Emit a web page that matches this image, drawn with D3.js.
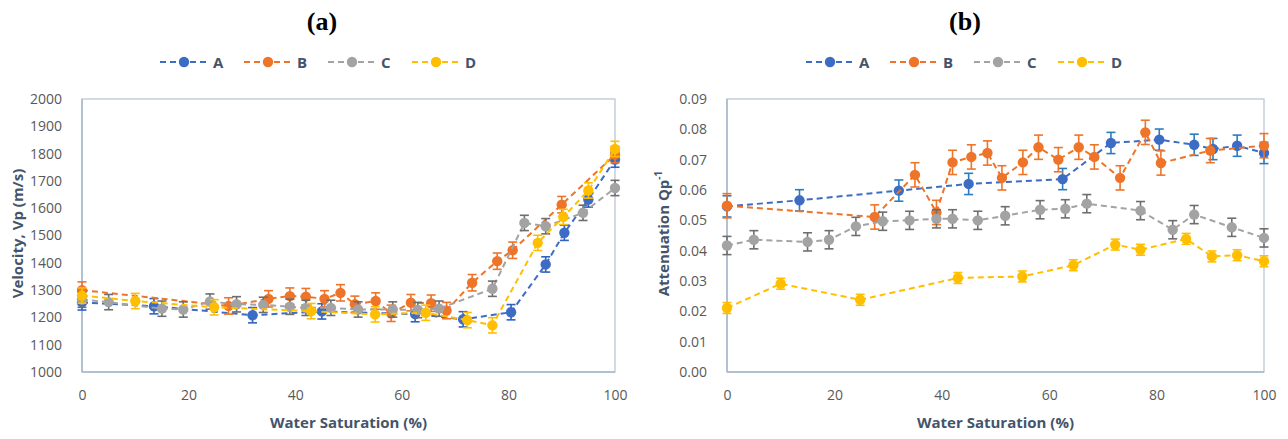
<!DOCTYPE html>
<html>
<head>
<meta charset="utf-8">
<script src="https://cdn.jsdelivr.net/npm/d3@7"></script>
<style>
  html, body { margin: 0; padding: 0; background: #fff; }
  svg { display: block; }
</style>
</head>
<body>
<svg id="chart" width="1288" height="439"></svg>
<script>
// Water saturation (%) for each sample
const swA = [0, 13.5, 32, 45, 62.5, 71.5, 80.5, 87, 90.5, 95, 100];
const swB = [0, 27.5, 35, 39, 42, 45.5, 48.5, 51.2, 55.1, 58, 61.7, 65.5, 68.4, 73.2, 77.9, 80.8, 90, 100];
const swC = [0, 5, 15, 19, 24, 29, 34, 39, 42, 46.7, 51.8, 58.3, 63, 67, 77, 83, 87, 94, 100];
const swD = [0, 10, 24.8, 43, 55, 64.5, 72.3, 77, 85.5, 90.3, 95, 100];

// P-wave velocity (m/s)
const vpA = [1255, 1241, 1208, 1222, 1212, 1193, 1219, 1394, 1510, 1632, 1778];
const vpB = [1300, 1242, 1268, 1278, 1276, 1268, 1290, 1248, 1260, 1215, 1254, 1252, 1225, 1327, 1406, 1446, 1613, 1796];
const vpC = [1265, 1256, 1232, 1229, 1258, 1248, 1246, 1239, 1235, 1235, 1229, 1229, 1227, 1232, 1305, 1546, 1534, 1583, 1674];
const vpD = [1280, 1260, 1237, 1223, 1211, 1217, 1190, 1171, 1473, 1568, 1665, 1817];

// P-wave attenuation Qp^-1
const qA = [0.0546, 0.0566, 0.0598, 0.0620, 0.0636, 0.0755, 0.0766, 0.0749, 0.0735, 0.0746, 0.0722];
const qB = [0.0548, 0.0511, 0.0650, 0.0526, 0.0691, 0.0709, 0.0722, 0.0640, 0.0691, 0.0741, 0.0700, 0.0741, 0.0709, 0.0640, 0.0790, 0.0689, 0.0730, 0.0746];
const qC = [0.0417, 0.0436, 0.0429, 0.0436, 0.0480, 0.0497, 0.0500, 0.0505, 0.0505, 0.0500, 0.0515, 0.0535, 0.0538, 0.0555, 0.0532, 0.0469, 0.0519, 0.0477, 0.0442];
const qD = [0.0211, 0.0291, 0.0238, 0.0310, 0.0315, 0.0352, 0.0420, 0.0403, 0.0439, 0.0381, 0.0385, 0.0365];

// Measurement uncertainty (± half-width of error bars)
const vpErr = [28, 30, 28, 28];
const qErr = [0.0035, 0.0040, 0.0030, 0.0018];

const seriesNames = ["A", "B", "C", "D"];
const seriesColors = ["#3D6CC5", "#EE7429", "#A3A3A3", "#FFBF00"];
const errColorsVp = ["#2F62C0", "#EE7429", "#6E6E6E", "#FFBF00"];
const errColorsQ = ["#2C7DBF", "#EE7429", "#6E6E6E", "#FFBF00"];

const xTicks = [0, 20, 40, 60, 80, 100];
const vpTicks = [1000, 1100, 1200, 1300, 1400, 1500, 1600, 1700, 1800, 1900, 2000];
const qTicks = [0.00, 0.01, 0.02, 0.03, 0.04, 0.05, 0.06, 0.07, 0.08, 0.09];

const svg = d3.select("#chart");
const uiFont = "'Open Sans', 'Liberation Sans', sans-serif";

function panel(opts) {
  const { left, right, top, bottom, ys, yDomain, yTicks, yFmt, err, errColors, title, titleX, legendX, yTitle } = opts;
  const x = d3.scaleLinear().domain([0, 100]).range([left, right]);
  const y = d3.scaleLinear().domain(yDomain).range([bottom, top]);
  const g = svg.append("g");

  // plot frame
  g.append("rect")
    .attr("x", left).attr("y", top)
    .attr("width", right - left).attr("height", bottom - top)
    .attr("fill", "none").attr("stroke", "#BCC7D8").attr("stroke-width", 1.3);

  // axes (labels only, no tick marks)
  const yAxis = g.append("g").attr("transform", `translate(${left - 17},0)`)
    .call(d3.axisLeft(y).tickValues(yTicks).tickFormat(yFmt).tickSize(0));
  yAxis.select(".domain").remove();
  yAxis.selectAll("text").attr("font-family", uiFont).attr("font-size", 14)
    .attr("fill", "#595959");

  const xAxis = g.append("g").attr("transform", `translate(0,${bottom + 15})`)
    .call(d3.axisBottom(x).tickValues(xTicks).tickFormat(d3.format("d")).tickSize(0));
  xAxis.select(".domain").remove();
  xAxis.selectAll("text").attr("font-family", uiFont).attr("font-size", 14)
    .attr("fill", "#595959");

  // left and bottom axis lines
  g.append("line").attr("x1", left).attr("x2", left).attr("y1", top).attr("y2", bottom)
    .attr("stroke", "#A7B7CF").attr("stroke-width", 1.5);
  g.append("line").attr("x1", left).attr("x2", right).attr("y1", bottom).attr("y2", bottom)
    .attr("stroke", "#A7B7CF").attr("stroke-width", 1.5);

  // series
  const sws = [swA, swB, swC, swD];
  ys.forEach((vals, i) => {
    const pts = vals.map((v, j) => ({ sw: sws[i][j], v }));
    const sg = g.append("g");
    sg.append("path")
      .datum(pts)
      .attr("fill", "none")
      .attr("stroke", seriesColors[i])
      .attr("stroke-width", 2)
      .attr("stroke-dasharray", "6,4")
      .attr("d", d3.line().x(d => x(d.sw)).y(d => y(d.v)));

    // error bars
    const e = err[i];
    const eb = sg.selectAll(".eb").data(pts).enter().append("g")
      .attr("stroke", errColors[i]).attr("stroke-width", 1.6);
    eb.append("line").attr("x1", d => x(d.sw)).attr("x2", d => x(d.sw))
      .attr("y1", d => y(d.v - e)).attr("y2", d => y(d.v + e));
    eb.append("line").attr("x1", d => x(d.sw) - 4.5).attr("x2", d => x(d.sw) + 4.5)
      .attr("y1", d => y(d.v + e)).attr("y2", d => y(d.v + e));
    eb.append("line").attr("x1", d => x(d.sw) - 4.5).attr("x2", d => x(d.sw) + 4.5)
      .attr("y1", d => y(d.v - e)).attr("y2", d => y(d.v - e));

    sg.selectAll("circle").data(pts).enter().append("circle")
      .attr("cx", d => x(d.sw)).attr("cy", d => y(d.v)).attr("r", 5.2)
      .attr("fill", seriesColors[i]);
  });

  // panel title
  svg.append("text").attr("x", titleX).attr("y", 30)
    .attr("text-anchor", "middle")
    .attr("font-family", "'Liberation Serif', 'DejaVu Serif', serif")
    .attr("font-weight", "bold").attr("font-size", 26).attr("fill", "#000")
    .text(title);

  // legend
  seriesNames.forEach((name, i) => {
    const lx = legendX + i * 84;
    const ly = 62;
    svg.append("line").attr("x1", lx - 24).attr("x2", lx + 22).attr("y1", ly).attr("y2", ly)
      .attr("stroke", seriesColors[i]).attr("stroke-width", 2).attr("stroke-dasharray", "6,4");
    svg.append("circle").attr("cx", lx).attr("cy", ly).attr("r", 5.2).attr("fill", seriesColors[i]);
    svg.append("text").attr("x", lx + 29).attr("y", ly + 5.5)
      .attr("font-family", uiFont).attr("font-weight", "bold").attr("font-size", 15)
      .attr("fill", "#44546A").text(name);
  });

  // x axis title
  svg.append("text").attr("x", (left + right) / 2).attr("y", 428)
    .attr("text-anchor", "middle")
    .attr("font-family", uiFont).attr("font-weight", "bold").attr("font-size", 15)
    .attr("fill", "#44546A").text("Water Saturation (%)");

  // y axis title
  const yt = svg.append("text")
    .attr("transform", `translate(${yTitle.x},${(top + bottom) / 2 - 2}) rotate(-90)`)
    .attr("text-anchor", "middle")
    .attr("font-family", uiFont).attr("font-weight", "bold").attr("font-size", 15)
    .attr("fill", "#44546A");
  yTitle.parts.forEach(p => {
    const ts = yt.append("tspan").text(p.t);
    if (p.sup) ts.attr("baseline-shift", "super").attr("font-size", 10);
  });
}

panel({
  left: 82, right: 615, top: 99, bottom: 372,
  ys: [vpA, vpB, vpC, vpD], yDomain: [1000, 2000], yTicks: vpTicks,
  yFmt: d3.format("d"), err: vpErr, errColors: errColorsVp,
  title: "(a)", titleX: 322, legendX: 184,
  yTitle: { x: 23, parts: [{ t: "Velocity, Vp (m/s)" }] }
});

panel({
  left: 727, right: 1264, top: 99, bottom: 372,
  ys: [qA, qB, qC, qD], yDomain: [0, 0.09], yTicks: qTicks,
  yFmt: d3.format(".2f"), err: qErr, errColors: errColorsQ,
  title: "(b)", titleX: 965, legendX: 830,
  yTitle: { x: 669, parts: [{ t: "Attenuation Qp" }, { t: "-1", sup: true }] }
});
</script>
</body>
</html>
